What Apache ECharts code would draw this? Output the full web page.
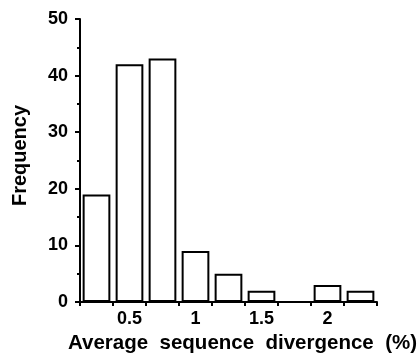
<!DOCTYPE html>
<html>
<head>
<meta charset="utf-8">
<script src="https://cdn.jsdelivr.net/npm/echarts@6/dist/echarts.min.js"></script>
<style>html,body{margin:0;padding:0;background:#fff}#c{width:420px;height:358px}</style>
</head>
<body>
<div id="c"></div>
<script>
var categories = ['0.25','0.5','0.75','1','1.25','1.5','1.75','2','2.25'];
var frequency = [19, 42, 43, 9, 5, 2, 0, 3, 2];
var xLabelShown = ['0.5','1','1.5','2'];
var yTicks = [0, 10, 20, 30, 40, 50];

var chart = echarts.init(document.getElementById('c'), null, {renderer: 'canvas'});
var font = '"Liberation Sans", Arial, Helvetica, sans-serif';
chart.setOption({
  animation: false,
  backgroundColor: '#fff',
  grid: {left: 80, right: 43, top: 19, bottom: 56, containLabel: false, outerBoundsMode: 'none'},
  xAxis: {
    type: 'category',
    data: categories,
    name: 'Average  sequence  divergence  (%)',
    nameLocation: 'middle',
    nameGap: 28,
    nameTextStyle: {color: '#000', fontSize: 20.5, fontFamily: font, fontWeight: 'bold', padding: [0, 0, 0, 28]},
    axisLine: {lineStyle: {color: '#000', width: 2}},
    axisTick: {show: true, alignWithLabel: false, interval: 0, length: 4, lineStyle: {color: '#000', width: 2}},
    axisLabel: {
      color: '#000', fontSize: 18, fontFamily: font, fontWeight: 'bold', margin: 8,
      interval: 0,
      formatter: function (v) { return xLabelShown.indexOf(v) >= 0 ? v : ''; }
    },
    splitLine: {show: false}
  },
  yAxis: {
    type: 'value',
    min: yTicks[0],
    max: yTicks[yTicks.length - 1],
    interval: 10,
    name: 'Frequency',
    nameLocation: 'middle',
    nameGap: 50,
    nameTextStyle: {color: '#000', fontSize: 20, fontFamily: font, fontWeight: 'bold', padding: [0, 0, 0, 10]},
    axisLine: {show: true, lineStyle: {color: '#000', width: 2}},
    axisTick: {show: true, length: 5, lineStyle: {color: '#000', width: 2}},
    minorTick: {show: true, splitNumber: 2, length: 3, lineStyle: {color: '#000', width: 2}},
    axisLabel: {color: '#000', fontSize: 18, fontFamily: font, fontWeight: 'bold', margin: 12},
    splitLine: {show: false}
  },
  series: [{
    type: 'bar',
    data: frequency,
    barWidth: '84%',
    itemStyle: {color: '#fff', borderColor: '#000', borderWidth: 2}
  }]
});
</script>
</body>
</html>
